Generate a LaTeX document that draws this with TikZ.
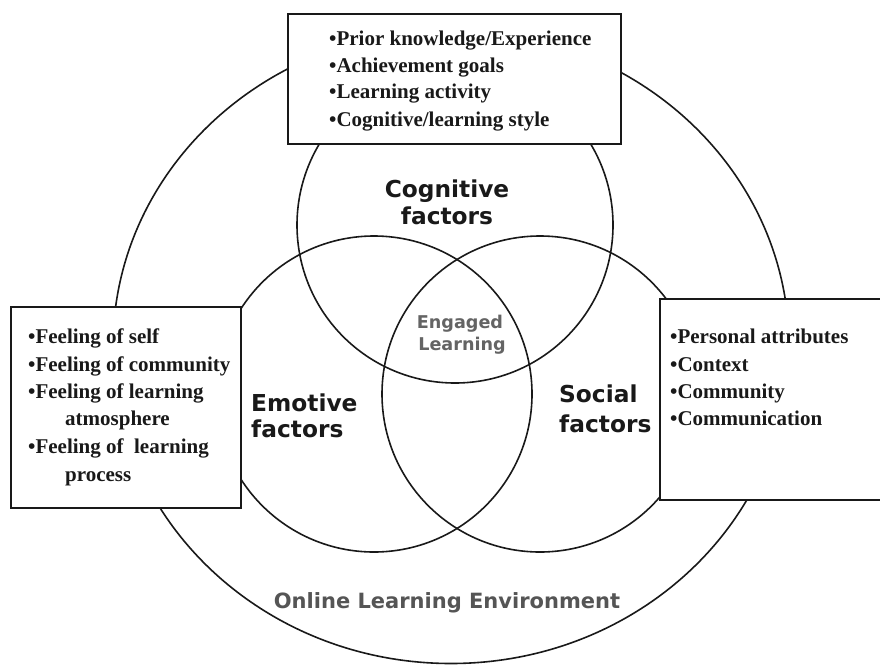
\documentclass[tikz,border=0pt]{standalone}
\usepackage{fontspec}
\setmainfont{Liberation Serif}
\newfontfamily\sanslabel{DejaVu Sans}
\usetikzlibrary{shapes.geometric}
\definecolor{ink}{RGB}{25,25,25}
\definecolor{softgray}{RGB}{100,100,100}
\definecolor{midgray}{RGB}{85,85,85}
\begin{document}
\begin{tikzpicture}[x=1pt,y=-1pt,
  ring/.style={draw=ink, line width=1.6pt, inner sep=0pt},
  listbox/.style={draw=ink, line width=1.6pt, fill=white, rectangle, anchor=north west, inner sep=0pt},
  item/.style={anchor=base west, inner sep=0pt, text=ink, font=\bfseries\fontsize{21}{27}\selectfont},
  factor/.style={inner sep=0pt, text=ink, font=\sanslabel\bfseries\fontsize{23.3}{27}\selectfont},
  core/.style={inner sep=0pt, text=softgray, font=\sanslabel\bfseries\fontsize{17.6}{22}\selectfont},
  envlabel/.style={inner sep=0pt, text=midgray, font=\sanslabel\bfseries\fontsize{21}{25}\selectfont}]
\useasboundingbox (0,0) rectangle (880,664);
\clip (0,0) rectangle (880,664);
% outer environment and the three factor circles
\node[ring, ellipse, minimum width=676pt, minimum height=634pt] (env) at (451,346.5) {};
\node[ring, circle, minimum size=316pt] (cog) at (455,225) {};
\node[ring, circle, minimum size=316pt] (emo) at (374,394) {};
\node[ring, circle, minimum size=316pt] (soc) at (540,394) {};
% list boxes
\node[listbox, minimum width=333pt, minimum height=130pt] (cogbox) at (287,13) {};
\node[listbox, minimum width=230pt, minimum height=201pt] (emobox) at (10,306) {};
\node[listbox, minimum width=240pt, minimum height=201pt] (socbox) at (659,298) {};
% cognitive list
\node[item] (c1) at (329,45.5) {•Prior knowledge/Experience};
\node[item] (c2) at (329,72) {•Achievement goals};
\node[item] (c3) at (329,98.5) {•Learning activity};
\node[item] (c4) at (329,126.5) {•Cognitive/learning style};
% emotive list
\node[item] (e1) at (28,343.5) {•Feeling of self};
\node[item] (e2) at (28,371.5) {•Feeling of community};
\node[item] (e3) at (28,398.5) {•Feeling of learning};
\node[item] (e4) at (65,425.5) {atmosphere};
\node[item] (e5) at (28,453.5) {•Feeling of~ learning};
\node[item] (e6) at (65,481.5) {process};
% social list
\node[item] (s1) at (670,343.5) {•Personal attributes};
\node[item] (s2) at (670,371.5) {•Context};
\node[item] (s3) at (670,398.5) {•Community};
\node[item] (s4) at (670,425.5) {•Communication};
% factor labels
\node[factor, anchor=base] (cogA) at (447,197) {Cognitive};
\node[factor, anchor=base] (cogB) at (447,224) {factors};
\node[factor, anchor=base west] (emoA) at (251,411) {Emotive};
\node[factor, anchor=base west] (emoB) at (251,437) {factors};
\node[factor, anchor=base west] (socA) at (559,402) {Social};
\node[factor, anchor=base west] (socB) at (559,432) {factors};
% centre and environment
\node[core, anchor=base] (engA) at (460,328) {Engaged};
\node[core, anchor=base] (engB) at (462,350) {Learning};
\node[envlabel, anchor=base] (envlab) at (447,608) {Online Learning Environment};
\end{tikzpicture}
\end{document}
